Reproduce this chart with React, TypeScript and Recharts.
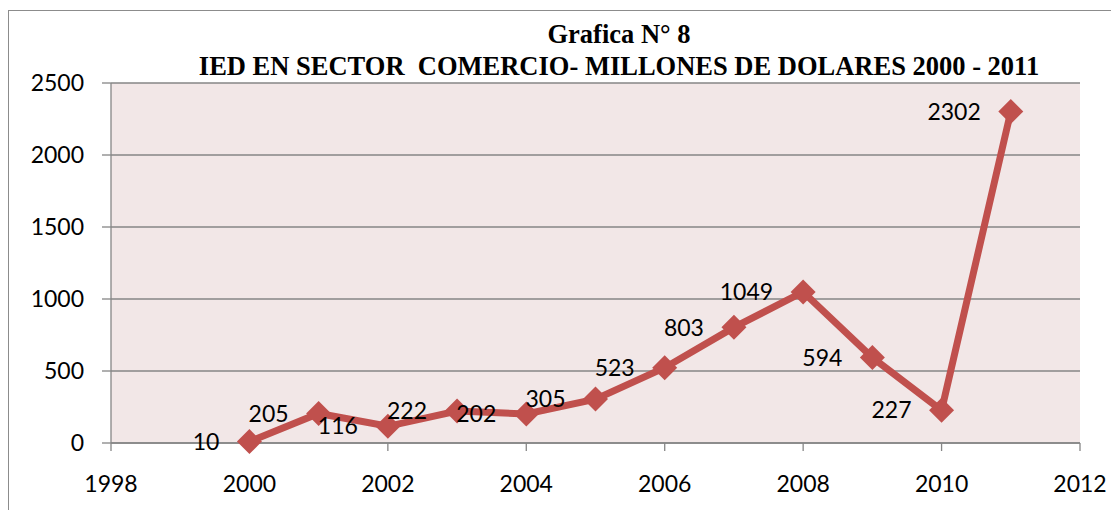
import React from 'react';
import { LineChart, Line, XAxis, YAxis, CartesianGrid, LabelList } from 'recharts';

const years = [2000, 2001, 2002, 2003, 2004, 2005, 2006, 2007, 2008, 2009, 2010, 2011];
const ied = [10, 205, 116, 222, 202, 305, 523, 803, 1049, 594, 227, 2302];
const xTicks = [1998, 2000, 2002, 2004, 2006, 2008, 2010, 2012];
const yTicks = [0, 500, 1000, 1500, 2000, 2500];

const data = years.map((year, i) => ({ year, value: ied[i] }));

const RED = '#C0504D';
const AXIS = '#868686';
const FONT = 'Lato, "Open Sans", sans-serif';
const FS = 23;

// diamond marker like the Excel one
function Diamond(props: any) {
  const { cx, cy } = props;
  if (cx == null || cy == null) return null;
  const r = 12.5;
  return (
    <polygon
      points={`${cx},${cy - r} ${cx + r},${cy} ${cx},${cy + r} ${cx - r},${cy}`}
      fill={RED}
    />
  );
}

export default function App() {
  return (
    <div style={{ position: 'relative', width: 1111, height: 510, overflow: 'hidden', background: '#fff' }}>
      <style>{'body{margin:0}'}</style>
      <div
        style={{
          position: 'absolute',
          left: 8,
          top: 10,
          width: 1200,
          height: 600,
          border: '1px solid #8c8c8c'
        }}
      />
      <LineChart
        width={1111}
        height={510}
        data={data}
        margin={{ top: 83, right: 31, bottom: 37, left: 0 }}
        style={{ position: 'absolute', left: 0, top: 0 }}
      >
        <CartesianGrid vertical={false} stroke={AXIS} strokeWidth={1.3} fill="#F2E7E7" />
        <XAxis
          dataKey="year"
          type="number"
          domain={[1998, 2012]}
          ticks={xTicks}
          height={30}
          stroke={AXIS}
          strokeWidth={1.3}
          tickSize={8}
          tickMargin={25}
          tick={{ fill: '#000', fontSize: FS, fontFamily: FONT }}
        />
        <YAxis
          type="number"
          domain={[0, 2500]}
          ticks={yTicks}
          width={111}
          stroke={AXIS}
          strokeWidth={1.3}
          tickSize={9}
          tickMargin={18}
          tick={{ fill: '#000', fontSize: FS, fontFamily: FONT }}
        />
        <Line
          dataKey="value"
          stroke={RED}
          strokeWidth={7}
          dot={<Diamond />}
          activeDot={false}
          isAnimationActive={false}
        >
          <LabelList
            dataKey="value"
            position="left"
            offset={30}
            fill="#000"
            fontSize={FS}
            fontFamily={FONT}
          />
        </Line>
      </LineChart>
      <div
        style={{
          position: 'absolute',
          left: 0,
          width: 1238,
          top: 18,
          textAlign: 'center',
          fontFamily: '"Liberation Serif", "Times New Roman", serif',
          fontWeight: 'bold',
          fontSize: 26.5,
          lineHeight: '32px',
          whiteSpace: 'pre',
          color: '#000'
        }}
      >
        {'Grafica N° 8\nIED EN SECTOR  COMERCIO- MILLONES DE DOLARES 2000 - 2011'}
      </div>
    </div>
  );
}
